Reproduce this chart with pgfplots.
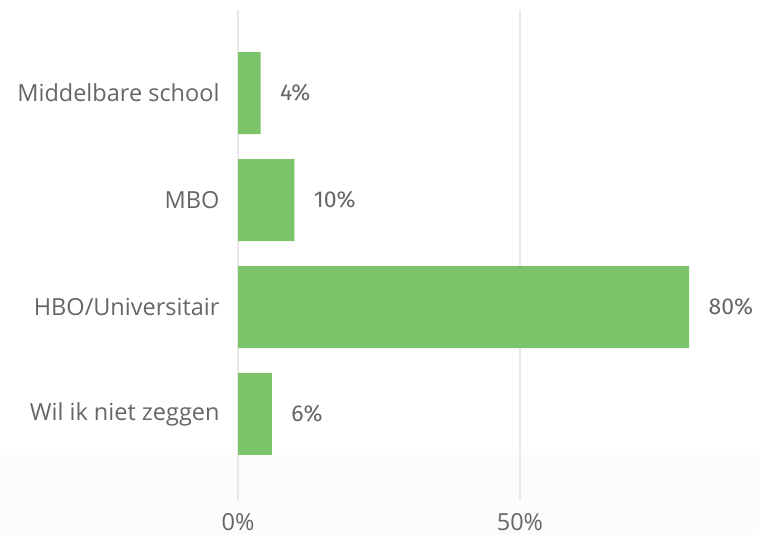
\documentclass[border=0pt]{standalone}
\usepackage{pgfplots}
\pgfplotsset{compat=1.18}
\usepackage{fontspec}
\setmainfont{Open Sans}
\newfontfamily\valfont{Fira Sans}

\definecolor{barGreen}{HTML}{7BC46A}
\definecolor{labGray}{HTML}{666666}
\definecolor{gridGray}{HTML}{E8E8E8}
\definecolor{baseTint}{HTML}{FDFCFA}

\begin{document}
\begin{tikzpicture}[x=1pt,y=1pt]
\path[use as bounding box] (0,0) rectangle (759,-535);
\fill[baseTint] (0,-455) rectangle (759,-535);
\begin{axis}[
    at={(238pt,-500pt)}, anchor=south west,
    scale only axis,
    width=521pt, height=490pt,
    xbar, bar width=82pt,
    xmin=0, xmax=92.4,
    ymin=-0.776, ymax=3.804,
    y dir=reverse,
    axis line style={draw=none},
    major tick length=0pt,
    xtick={0,50},
    xticklabels={0\%,50\%},
    xmajorgrids=true,
    grid style={gridGray, line width=1.5pt},
    ytick={0,1,2,3},
    yticklabels={Middelbare school, MBO, HBO/Universitair, Wil ik niet zeggen},
    tick label style={labGray, font=\fontsize{23.5}{27}\selectfont},
    xticklabel style={yshift=-10pt},
    yticklabel style={xshift=-15pt},
    /pgf/number format/assume math mode=true,
    nodes near coords={\pgfmathprintnumber{\pgfplotspointmeta}\%},
    nodes near coords style={labGray, font=\valfont\fontsize{23}{27}\selectfont, xshift=16pt},
]
\addplot[fill=barGreen, draw=none] coordinates {
    (4,0) (10,1) (80,2) (6,3)
};
\end{axis}
\end{tikzpicture}
\end{document}
